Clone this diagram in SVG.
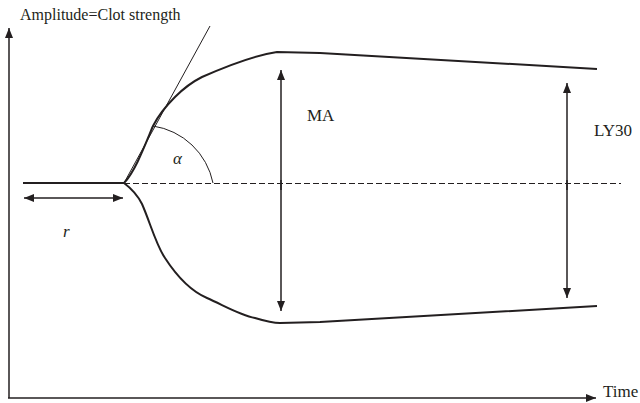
<svg xmlns="http://www.w3.org/2000/svg" width="640" height="403" viewBox="0 0 640 403">
<style>
text{font-family:"Liberation Serif","Times New Roman",serif;fill:#231f20;font-size:17px}
.it{font-style:italic}
.curve{fill:none;stroke:#231f20;stroke-width:2}
.thin{fill:none;stroke:#231f20;stroke-width:1}
.arr{fill:none;stroke:#231f20;stroke-width:1.5}
</style>
<defs>
<marker id="ah" viewBox="0 0 10 10" refX="10" refY="5" markerWidth="10" markerHeight="10" markerUnits="userSpaceOnUse" orient="auto-start-reverse">
<path d="M0,1 L10,5 L0,9 Z" fill="#231f20"/>
</marker>
</defs>
<g id="axes">
<path class="arr" d="M9,398 L9,28" marker-end="url(#ah)" stroke-width="2"/>
<path class="arr" d="M8,398 L596,398" marker-end="url(#ah)" stroke-width="2"/>
</g>
<g id="baseline">
<path class="curve" d="M23,183 L124,183"/>
<path class="thin" d="M124,183.5 L621,183.5" stroke-dasharray="6,3"/>
</g>
<g id="trace">
<path class="curve" d="M124,183 C135,172 145,145 153,126 C160,112 168,104 175,97 C185,87 192,82 202,77 C220,69 250,56 277,52 L320,53 L597,69"/>
<path class="curve" d="M124,183 C132,189 138,196 142,204 C150,222 156,245 165,258 C178,278 193,292 207,298 C225,306 240,315 255,318 C265,321 272,323 280,323 L320,322 L597,306"/>
</g>
<g id="tangent">
<path class="thin" d="M124,183 L210,26"/>
<path class="thin" d="M153,126 A72,72 0 0 1 213,183"/>
<text class="it" x="173" y="164">α</text>
</g>
<g id="ma">
<path class="arr" d="M281,190 L281,70" marker-end="url(#ah)"/>
<path class="arr" d="M281,180 L281,311" marker-end="url(#ah)"/>
<text x="307" y="121">MA</text>
</g>
<g id="ly30">
<path class="arr" d="M567,190 L567,83" marker-end="url(#ah)"/>
<path class="arr" d="M567,180 L567,298" marker-end="url(#ah)"/>
<text x="594" y="136">LY30</text>
</g>
<g id="r">
<path class="arr" d="M24,198 L123,198" marker-start="url(#ah)" marker-end="url(#ah)"/>
<text class="it" x="63" y="237">r</text>
</g>
<text x="20" y="20" style="font-size:16px">Amplitude=Clot strength</text>
<text x="603" y="397">Time</text>
</svg>
